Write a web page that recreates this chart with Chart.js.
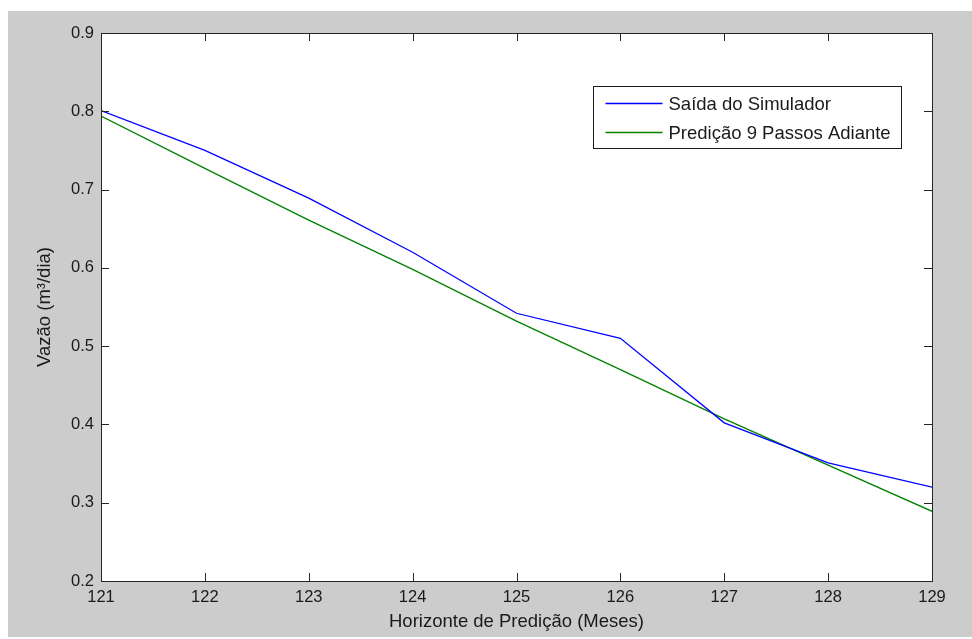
<!DOCTYPE html>
<html>
<head>
<meta charset="utf-8">
<script src="https://cdn.jsdelivr.net/npm/chart.js@4.4.0/dist/chart.umd.min.js"></script>
<style>
  html, body { margin: 0; padding: 0; background: #ffffff; }
  #wrap { position: absolute; left: 8px; top: 11px; width: 964px; height: 626px; background: #cccccc; }
  canvas { display: block; }
</style>
</head>
<body>
<div id="wrap"><canvas id="c" width="964" height="626"></canvas></div>
<script>
const months = [121, 122, 123, 124, 125, 126, 127, 128, 129];
const simulador = [0.801, 0.750, 0.689, 0.620, 0.542, 0.510, 0.402, 0.351, 0.320];
const predicao = [0.794, 0.727, 0.661, 0.598, 0.532, 0.470, 0.407, 0.348, 0.289];
const yTicks = [0.2, 0.3, 0.4, 0.5, 0.6, 0.7, 0.8, 0.9];
const seriesNames = ['Saída do Simulador', 'Predição 9 Passos Adiante'];
const xTitle = 'Horizonte de Predição (Meses)';
const yTitle = 'Vazão (m³/dia)';

const FONT = 'Liberation Sans, Arial, sans-serif';
const TXT = '#1a1a1a';

function pts(vals) { return months.map((m, i) => ({ x: m, y: vals[i] })); }

const boxPlugin = {
  id: 'matlabBox',
  beforeDraw(chart) {
    const { ctx, chartArea: a } = chart;
    ctx.save();
    ctx.fillStyle = '#ffffff';
    ctx.fillRect(a.left, a.top, a.right - a.left, a.bottom - a.top);
    ctx.restore();
  },
  afterDatasetsDraw(chart) {
    const { ctx, chartArea: a, scales } = chart;
    const tl = 8;
    ctx.save();
    ctx.strokeStyle = '#262626';
    ctx.lineWidth = 1;
    ctx.beginPath();
    scales.x.ticks.forEach(t => {
      const px = Math.round(scales.x.getPixelForValue(t.value)) + 0.5;
      ctx.moveTo(px, a.bottom); ctx.lineTo(px, a.bottom - tl);
      ctx.moveTo(px, a.top); ctx.lineTo(px, a.top + tl);
    });
    scales.y.ticks.forEach(t => {
      const py = Math.round(scales.y.getPixelForValue(t.value)) + 0.5;
      ctx.moveTo(a.left, py); ctx.lineTo(a.left + tl, py);
      ctx.moveTo(a.right, py); ctx.lineTo(a.right - tl, py);
    });
    ctx.stroke();
    ctx.strokeRect(Math.round(a.left) + 0.5, Math.round(a.top) + 0.5,
                   Math.round(a.right - a.left), Math.round(a.bottom - a.top));

    // legend
    ctx.font = '18.5px ' + FONT;
    const ds = chart.data.datasets;
    let maxW = 0;
    ds.forEach(d => { maxW = Math.max(maxW, ctx.measureText(d.label).width); });
    const bw = Math.round(75 + maxW + 11);
    const bh = 62;
    const bx = Math.round(a.right - 31 - bw) + 0.5;
    const by = Math.round(a.top + 53) + 0.5;
    ctx.fillStyle = '#ffffff';
    ctx.fillRect(bx, by, bw, bh);
    ctx.strokeStyle = '#1a1a1a';
    ctx.strokeRect(bx, by, bw, bh);
    ds.forEach((d, i) => {
      const ry = by + 17 + i * 29;
      ctx.strokeStyle = d.borderColor;
      ctx.lineWidth = 1.3;
      ctx.beginPath();
      ctx.moveTo(bx + 12, ry); ctx.lineTo(bx + 69, ry);
      ctx.stroke();
      ctx.fillStyle = TXT;
      ctx.textBaseline = 'middle';
      ctx.textAlign = 'left';
      ctx.fillText(d.label, bx + 75, ry + 1);
    });
    ctx.restore();
  }
};

new Chart(document.getElementById('c'), {
  type: 'line',
  data: {
    datasets: [
      { label: seriesNames[0], data: pts(simulador), borderColor: '#0000ff', borderWidth: 1.3, pointRadius: 0, tension: 0, fill: false },
      { label: seriesNames[1], data: pts(predicao), borderColor: '#008000', borderWidth: 1.3, pointRadius: 0, tension: 0, fill: false }
    ]
  },
  options: {
    responsive: false,
    animation: false,
    layout: { padding: { left: 0, top: 22, right: 40, bottom: 0 } },
    plugins: { legend: { display: false }, tooltip: { enabled: false } },
    scales: {
      x: {
        type: 'linear',
        min: months[0], max: months[months.length - 1],
        afterFit(s) { s.height = 56; },
        afterBuildTicks(s) { s.ticks = months.map(v => ({ value: v })); },
        grid: { display: false, drawTicks: false },
        border: { display: false },
        ticks: { color: TXT, font: { family: FONT, size: 16.5 }, padding: 7, maxRotation: 0, autoSkip: false, callback: v => String(v) },
        title: { display: true, text: xTitle, color: TXT, font: { family: FONT, size: 18.5 }, padding: { top: 0, bottom: 4 } }
      },
      y: {
        type: 'linear',
        min: yTicks[0], max: yTicks[yTicks.length - 1],
        afterFit(s) { s.width = 93; },
        afterBuildTicks(s) { s.ticks = yTicks.map(v => ({ value: v })); },
        grid: { display: false, drawTicks: false },
        border: { display: false },
        ticks: { color: TXT, font: { family: FONT, size: 16.5 }, padding: 7, autoSkip: false, callback: v => Number(v).toFixed(1) },
        title: { display: true, text: yTitle, color: TXT, font: { family: FONT, size: 18.5 }, padding: { top: 26, bottom: 0 } }
      }
    }
  },
  plugins: [boxPlugin]
});
</script>
</body>
</html>
